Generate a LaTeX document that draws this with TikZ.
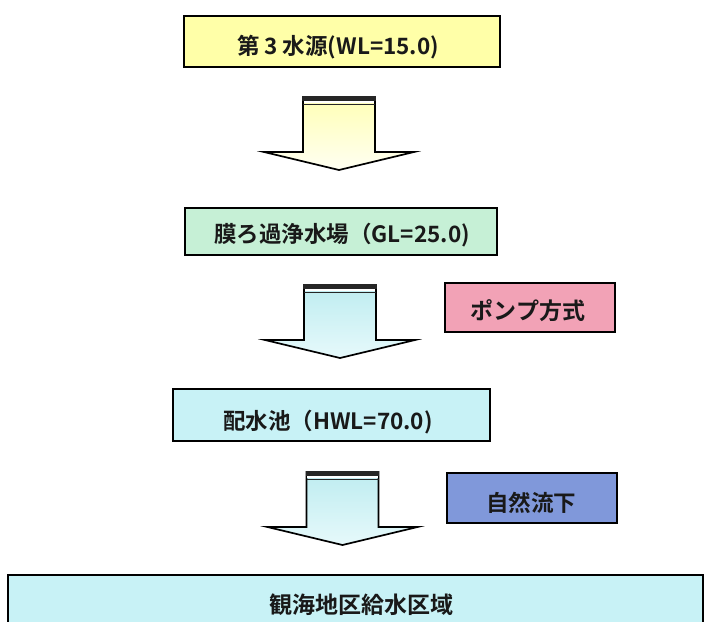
\documentclass[tikz,border=0pt]{standalone}
\usepackage{fontspec}
\newfontfamily\jp{Noto Sans CJK JP Bold}
\tikzset{
  box/.style={draw=black, line width=1.8pt, rectangle, inner sep=0pt},
  lbl/.style={inner sep=0pt, font=\jp\fontsize{22.5}{24}\selectfont, text=black!90},
  slbl/.style={inner sep=0pt, font=\jp\fontsize{22.5}{24}\selectfont, text=black!90},
}
\definecolor{ylw}{HTML}{FFFFA8}
\definecolor{grn}{HTML}{C6F0D6}
\definecolor{cyn}{HTML}{C8F2F6}
\definecolor{pnk}{HTML}{F2A2B6}
\definecolor{blu}{HTML}{8098DA}
\newcommand\flowarrow[6]{%
  % #1 cx, #2 top y, #3 wing y, #4 tip y, #5 top colour, #6 bottom colour
  \shadedraw[top color=#5, bottom color=#6, draw=black, line width=1.7pt, line join=miter]
    (#1-36,#2) -- (#1+36,#2) -- (#1+36,#3) -- (#1+75,#3) -- (#1,#4)
    -- (#1-75,#3) -- (#1-36,#3) -- cycle;
  \fill[black!85] (#1-36.8,#2-0.8) rectangle (#1+36.8,#2+4);
  \fill[white] (#1-35.2,#2+4) rectangle (#1+35.2,#2+6.3);
  \draw[line width=1.7pt, black!85] (#1-36,#2+7.5) -- (#1+36,#2+7.5);
}
\begin{document}
\begin{tikzpicture}[x=1pt,y=-1pt]
\useasboundingbox (0,0) rectangle (706,621);
\clip (0,0) rectangle (706,621);
\fill[white] (0,0) rectangle (706,621);

% boxes
\node[box, fill=ylw, minimum width=316pt, minimum height=51pt] (src) at (342,41.5) {};
\node[lbl] (srct) at (338,47) {第 3 水源(WL=15.0)};

\node[box, fill=grn, minimum width=312pt, minimum height=47pt] (plant) at (341,231.5) {};
\node[lbl] (plantt) at (342,235) {膜ろ過浄水場（GL=25.0)};

\node[box, fill=cyn, minimum width=317pt, minimum height=52pt] (res) at (331.5,415) {};
\node[lbl] (rest) at (328,422) {配水池（HWL=70.0)};

\node[box, fill=pnk, minimum width=170pt, minimum height=49pt] (pump) at (530,307.5) {};
\node[slbl, font=\jp\fontsize{23}{25}\selectfont] (pumpt) at (528,311) {ポンプ方式};

\node[box, fill=blu, minimum width=170pt, minimum height=50pt] (grav) at (532,498) {};
\node[slbl] (gravt) at (531,503) {自然流下};

\node[box, fill=cyn, minimum width=695pt, minimum height=80pt] (area) at (355.5,615) {};
\node[lbl, font=\jp\fontsize{23}{25}\selectfont] (areat) at (361,605) {観海地区給水区域};

% block arrows
\flowarrow{339}{97}{152}{170}{ylw!85}{ylw!15}
\flowarrow{340}{285}{340}{358}{cyn!95!teal}{cyn!45}
\flowarrow{342.5}{472}{527}{545}{cyn!95!teal}{cyn!45}
\end{tikzpicture}
\end{document}
